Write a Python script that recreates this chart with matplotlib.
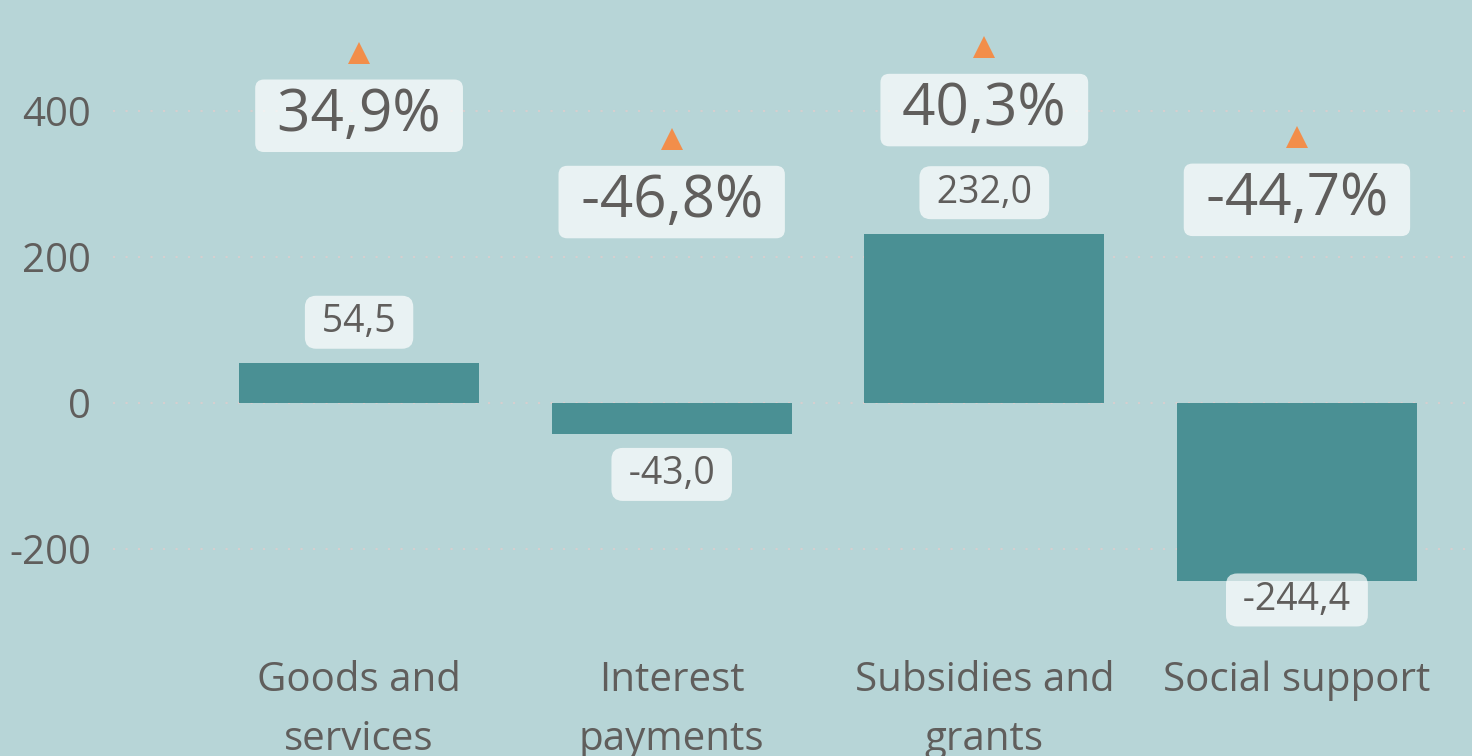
import matplotlib.pyplot as plt

categories = ["Goods and\nservices", "Interest\npayments", "Subsidies and\ngrants", "Social support"]
values = [54.5, -43.0, 232.0, -244.4]
pct_change = [34.9, -46.8, 40.3, -44.7]
yticks = [-200, 0, 200, 400]

bg = "#b7d5d7"
bar_color = "#4a9094"
text_color = "#605e5c"
marker_color = "#f28e4a"

plt.rcParams["font.family"] = ["Open Sans", "DejaVu Sans"]

def fmt(v, pct=False):
    s = f"{v:.1f}".replace(".", ",")
    return s + "%" if pct else s

fig = plt.figure(figsize=(14.72, 7.56), dpi=100, facecolor=bg)
ax = fig.add_axes([0.0768, 0.1534, 0.9232, 0.8201], facecolor=bg)
x = list(range(len(categories)))

ax.bar(x, values, width=0.768, color=bar_color, zorder=2)
ax.set_xlim(-0.787, 3.56)
ax.set_ylim(-324.7, 524.7)
ax.set_yticks(yticks)
ax.set_yticklabels([str(t) for t in yticks])
ax.set_xticks(x)
ax.set_xticklabels(categories, linespacing=1.6)
ax.tick_params(axis="y", length=0, pad=16, labelsize=29, labelcolor=text_color)
ax.tick_params(axis="x", length=0, pad=15, labelsize=29, labelcolor=text_color)
ax.grid(axis="y", color="#d6cfcf", linewidth=1.5, linestyle=(0, (1, 5)), zorder=0)
ax.set_axisbelow(True)
for s in ax.spines.values():
    s.set_visible(False)

# value labels, the lowest one kept inside the plot
label_floor = -215
box = dict(boxstyle="round,pad=0.2,rounding_size=0.3", facecolor="white",
           edgecolor="none", alpha=0.7)
for i, v in enumerate(values):
    if v >= 0:
        ax.annotate(" " + fmt(v) + " ", (i, v), xytext=(0, 41), textcoords="offset pixels",
                    ha="center", va="center", fontsize=27, color=text_color, bbox=box, zorder=4)
    else:
        ax.annotate(" " + fmt(v) + " ", (i, max(v, label_floor)), xytext=(0, -40),
                    textcoords="offset pixels", ha="center", va="center", fontsize=27,
                    color=text_color, bbox=box, zorder=4)

# percent change on a second axis
ax2 = ax.twinx()
ax2.set_ylim(-521.2, 65.9)
ax2.set_yticks([])
for s in ax2.spines.values():
    s.set_visible(False)
ax2.plot(x, pct_change, linestyle="none", marker="^", markersize=16,
         color=marker_color, markeredgewidth=0)
box2 = dict(boxstyle="round,pad=0.12,rounding_size=0.15", facecolor="white",
            edgecolor="none", alpha=0.7)
for i, p in enumerate(pct_change):
    ax2.annotate(" " + fmt(p, True) + " ", (i, p), xytext=(0, -63), textcoords="offset pixels",
                 ha="center", va="center", fontsize=42, color=text_color, bbox=box2)

fig.savefig("out.png", dpi=100, facecolor=bg)
